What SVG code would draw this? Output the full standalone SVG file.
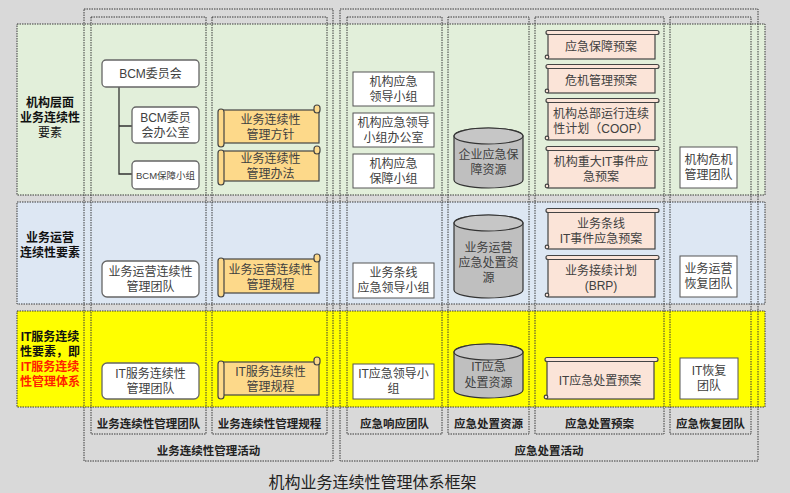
<svg xmlns="http://www.w3.org/2000/svg" width="790" height="493" viewBox="0 0 790 493">
<style>
text{font-family:"Liberation Sans","Noto Sans CJK SC",sans-serif;}
.nt{font-size:12px;fill:#404040;text-anchor:middle;}
.rl{font-size:12px;font-weight:bold;fill:#111;text-anchor:middle;}
.cl{font-size:11.5px;font-weight:bold;fill:#222;text-anchor:middle;}
.dot{fill:none;stroke:#3a3a3a;stroke-width:1;stroke-dasharray:1.5 1;}
.box{fill:#fff;stroke:#555;stroke-width:1;}
.rbox{fill:#fff;stroke:#666;stroke-width:1.3;}
.cyl{fill:#bfbfbf;stroke:#333;stroke-width:1.2;}
.cylt{fill:#c6c6c6;stroke:#333;stroke-width:1.2;}
.ys{fill:#fdd98a;stroke:#444;stroke-width:1.2;}
.ps{fill:#fbe4d8;stroke:#444;stroke-width:1.2;}
</style>
<rect width="790" height="493" fill="#d9d9d9"/>
<g id="rows">
<rect x="17" y="24" width="748" height="171" fill="#e2efda" class="dot" style="fill:#e2efda"/>
<rect x="17" y="202" width="748" height="102" class="dot" style="fill:#dde7f3"/>
<rect x="17" y="311" width="748" height="96" class="dot" style="fill:#ffff00"/>
</g>
<g id="row-labels">
<text class="rl" x="50" y="107">机构层面</text>
<text class="rl" x="50" y="122">业务连续性</text>
<text class="nt" x="50" y="137" style="fill:#111">要素</text>
<text class="rl" x="50" y="242">业务运营</text>
<text class="rl" x="50" y="257">连续性要素</text>
<text class="rl" x="50" y="341">IT服务连续</text>
<text class="rl" x="50" y="356">性要素，即</text>
<text class="rl" x="50" y="371" style="fill:#ff2200">IT服务连续</text>
<text class="rl" x="50" y="386" style="fill:#ff2200">性管理体系</text>
</g>
<g id="columns">
<rect class="dot" x="84" y="9" width="249" height="452"/>
<rect class="dot" x="91" y="17" width="115" height="417"/>
<rect class="dot" x="212" y="17" width="115" height="417"/>
<rect class="dot" x="340" y="9" width="418" height="452"/>
<rect class="dot" x="347" y="17" width="95" height="417"/>
<rect class="dot" x="448" y="17" width="81" height="417"/>
<rect class="dot" x="535" y="17" width="129" height="417"/>
<rect class="dot" x="670" y="17" width="81" height="417"/>
<text class="cl" x="148.5" y="428">业务连续性管理团队</text>
<text class="cl" x="269.5" y="428">业务连续性管理规程</text>
<text class="cl" x="394.5" y="428">应急响应团队</text>
<text class="cl" x="488.5" y="428">应急处置资源</text>
<text class="cl" x="599.5" y="428">应急处置预案</text>
<text class="cl" x="710.5" y="428">应急恢复团队</text>
<text class="cl" x="208.5" y="455">业务连续性管理活动</text>
<text class="cl" x="549" y="455">应急处置活动</text>
</g>
<g id="connectors">
<path d="M119,87 V174 H132 M119,126 H132" fill="none" stroke="#333" stroke-width="1.3"/>
</g>
<g id="n-bcm">
<rect class="rbox" x="102" y="60" width="97" height="27" rx="4"/>
<text class="nt" x="150.5" y="78">BCM委员会</text>
</g>
<g id="n-bcm-office">
<rect class="rbox" x="132" y="107" width="67" height="36" rx="4"/>
<text class="nt" x="165.5" y="121.5">BCM委员</text>
<text class="nt" x="165.5" y="136.5">会办公室</text>
</g>
<g id="n-bcm-support">
<rect class="rbox" x="132" y="161" width="67" height="28" rx="4"/>
<text class="nt" x="165.5" y="178.5" style="font-size:9.5px">BCM保障小组</text>
</g>
<g id="n-policy">
<rect class="ys" x="222" y="110" width="97" height="33"/>
<rect class="ys" x="314" y="105" width="6" height="8" rx="3"/>
<rect class="ys" x="218" y="109" width="6" height="38" rx="3"/>
<text class="nt" x="270.5" y="123.5">业务连续性</text>
<text class="nt" x="270.5" y="138.5">管理方针</text>
</g>
<g id="n-method">
<rect class="ys" x="222" y="151" width="97" height="30"/>
<rect class="ys" x="314" y="146" width="6" height="8" rx="3"/>
<rect class="ys" x="218" y="150" width="6" height="35" rx="3"/>
<text class="nt" x="270.5" y="163">业务连续性</text>
<text class="nt" x="270.5" y="178">管理办法</text>
</g>
<g id="n-lead">
<rect class="box" x="353" y="72" width="81" height="34"/>
<text class="nt" x="393.5" y="85.5">机构应急</text>
<text class="nt" x="393.5" y="100.5">领导小组</text>
</g>
<g id="n-lead-office">
<rect class="box" x="353" y="113" width="81" height="34"/>
<text class="nt" x="393.5" y="126.5">机构应急领导</text>
<text class="nt" x="393.5" y="141.5">小组办公室</text>
</g>
<g id="n-support">
<rect class="box" x="353" y="154" width="81" height="34"/>
<text class="nt" x="393.5" y="167.5">机构应急</text>
<text class="nt" x="393.5" y="182.5">保障小组</text>
</g>
<g id="n-res1">
<path class="cyl" d="M454,136 A34.5,8 0 0 1 523,136 V180 A34.5,8 0 0 1 454,180 Z"/>
<ellipse class="cylt" cx="488.5" cy="136" rx="34.5" ry="8"/>
<text class="nt" x="488.5" y="159">企业应急保</text>
<text class="nt" x="488.5" y="174">障资源</text>
</g>
<g id="n-plan1">
<rect class="ps" x="548" y="34" width="107" height="25"/>
<rect class="ps" x="546" y="30.5" width="113" height="4" rx="2"/>
<circle class="ps" cx="547" cy="57" r="1.8"/>
<text class="nt" x="601" y="51">应急保障预案</text>
</g>
<g id="n-plan2">
<rect class="ps" x="548" y="68" width="107" height="25"/>
<rect class="ps" x="546" y="64.5" width="113" height="4" rx="2"/>
<circle class="ps" cx="547" cy="91" r="1.8"/>
<text class="nt" x="601" y="85">危机管理预案</text>
</g>
<g id="n-coop">
<rect class="ps" x="548" y="102" width="107" height="38"/>
<rect class="ps" x="546" y="98.5" width="113" height="4" rx="2"/>
<circle class="ps" cx="547" cy="138" r="1.8"/>
<text class="nt" x="601" y="118">机构总部运行连续</text>
<text class="nt" x="601" y="133">性计划（COOP）</text>
</g>
<g id="n-itplan">
<rect class="ps" x="548" y="150" width="107" height="38"/>
<rect class="ps" x="546" y="146.5" width="113" height="4" rx="2"/>
<circle class="ps" cx="547" cy="186" r="1.8"/>
<text class="nt" x="601" y="166">机构重大IT事件应</text>
<text class="nt" x="601" y="181">急预案</text>
</g>
<g id="n-crisis">
<rect class="box" x="680" y="147" width="57" height="41"/>
<text class="nt" x="708.5" y="164">机构危机</text>
<text class="nt" x="708.5" y="179">管理团队</text>
</g>
<g id="n-ops-team">
<rect class="rbox" x="102" y="261" width="97" height="36" rx="5"/>
<text class="nt" x="150.5" y="275.5">业务运营连续性</text>
<text class="nt" x="150.5" y="290.5">管理团队</text>
</g>
<g id="n-ops-rule">
<rect class="ys" x="222" y="259" width="97" height="34"/>
<rect class="ys" x="314" y="254" width="6" height="8" rx="3"/>
<rect class="ys" x="218" y="258" width="6" height="39" rx="3"/>
<text class="nt" x="270.5" y="273.5">业务运营连续性</text>
<text class="nt" x="270.5" y="288.5">管理规程</text>
</g>
<g id="n-line-lead">
<rect class="box" x="353" y="263" width="81" height="35"/>
<text class="nt" x="393.5" y="277">业务条线</text>
<text class="nt" x="393.5" y="292">应急领导小组</text>
</g>
<g id="n-res2">
<path class="cyl" d="M454,223 A34.5,8 0 0 1 523,223 V290 A34.5,8 0 0 1 454,290 Z"/>
<ellipse class="cylt" cx="488.5" cy="223" rx="34.5" ry="8"/>
<text class="nt" x="488.5" y="252">业务运营</text>
<text class="nt" x="488.5" y="267">应急处置资</text>
<text class="nt" x="488.5" y="282">源</text>
</g>
<g id="n-line-it">
<rect class="ps" x="548" y="212" width="107" height="37"/>
<rect class="ps" x="546" y="208.5" width="113" height="4" rx="2"/>
<circle class="ps" cx="547" cy="247" r="1.8"/>
<text class="nt" x="601" y="227.5">业务条线</text>
<text class="nt" x="601" y="242.5">IT事件应急预案</text>
</g>
<g id="n-brp">
<rect class="ps" x="548" y="259" width="107" height="38"/>
<rect class="ps" x="546" y="255.5" width="113" height="4" rx="2"/>
<circle class="ps" cx="547" cy="295" r="1.8"/>
<text class="nt" x="601" y="275">业务接续计划</text>
<text class="nt" x="601" y="290">(BRP)</text>
</g>
<g id="n-ops-recover">
<rect class="box" x="680" y="256" width="57" height="41"/>
<text class="nt" x="708.5" y="273">业务运营</text>
<text class="nt" x="708.5" y="288">恢复团队</text>
</g>
<g id="n-it-team">
<rect class="rbox" x="102" y="363" width="97" height="36" rx="5"/>
<text class="nt" x="150.5" y="377.5">IT服务连续性</text>
<text class="nt" x="150.5" y="392.5">管理团队</text>
</g>
<g id="n-it-rule">
<rect class="ys" x="222" y="362" width="97" height="33"/>
<rect class="ys" x="314" y="357" width="6" height="8" rx="3"/>
<rect class="ys" x="218" y="361" width="6" height="38" rx="3"/>
<text class="nt" x="270.5" y="376">IT服务连续性</text>
<text class="nt" x="270.5" y="391">管理规程</text>
</g>
<g id="n-it-lead">
<rect class="box" x="353" y="364" width="81" height="35"/>
<text class="nt" x="393.5" y="378">IT应急领导小</text>
<text class="nt" x="393.5" y="393">组</text>
</g>
<g id="n-res3">
<path class="cyl" d="M454,352 A34.5,8 0 0 1 523,352 V390 A34.5,8 0 0 1 454,390 Z"/>
<ellipse class="cylt" cx="488.5" cy="352" rx="34.5" ry="8"/>
<text class="nt" x="488.5" y="371">IT应急</text>
<text class="nt" x="488.5" y="387">处置资源</text>
</g>
<g id="n-it-plan">
<rect class="ps" x="547" y="361" width="107" height="38"/>
<rect class="ps" x="545" y="357.5" width="113" height="4" rx="2"/>
<circle class="ps" cx="546" cy="397" r="1.8"/>
<text class="nt" x="600" y="385">IT应急处置预案</text>
</g>
<g id="n-it-recover">
<rect class="box" x="680" y="358" width="58" height="41"/>
<text class="nt" x="709" y="375">IT恢复</text>
<text class="nt" x="709" y="390">团队</text>
</g>
<text x="372.5" y="488" style="font-size:16px;fill:#222;text-anchor:middle">机构业务连续性管理体系框架</text>
</svg>
